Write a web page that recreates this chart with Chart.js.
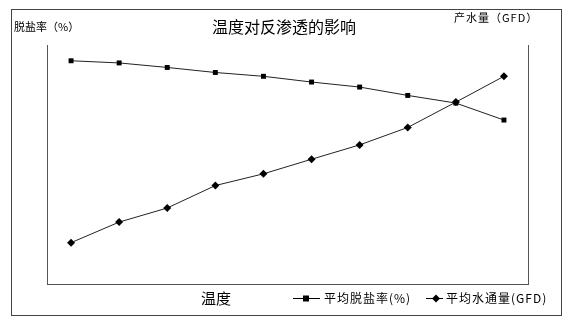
<!DOCTYPE html>
<html>
<head>
<meta charset="utf-8">
<script src="https://cdn.jsdelivr.net/npm/chart.js@4"></script>
<style>
  body { margin: 0; background: #fff; }
  #wrap { width: 572px; height: 322px; }
</style>
</head>
<body>
<div id="wrap"><canvas id="tempChart" width="572" height="322"></canvas></div>
<script>
// temperature steps (no labels shown on the axis)
const temps = ['1', '2', '3', '4', '5', '6', '7', '8', '9', '10'];
// average salt rejection, relative units
const saltRejection = [93.4, 92.5, 90.6, 88.5, 86.9, 84.5, 82.4, 78.9, 75.7, 68.6];
// average water flux, relative units
const waterFlux = [17.3, 25.9, 31.8, 41.2, 46.1, 52.2, 58.2, 65.5, 76.1, 86.9];

const cjk = '"Noto Sans CJK SC", sans-serif';

// frame, titles and the hand drawn legend
const decor = {
  id: 'decor',
  afterDraw(chart) {
    const ctx = chart.ctx;
    ctx.save();
    ctx.strokeStyle = '#444';
    ctx.lineWidth = 1;
    ctx.strokeRect(11.5, 9.5, 550, 306);

    ctx.fillStyle = '#000';
    ctx.textBaseline = 'middle';
    ctx.font = '16px ' + cjk;
    ctx.textAlign = 'center';
    ctx.fillText('温度对反渗透的影响', 284, 27);

    ctx.font = '11px ' + cjk;
    ctx.textAlign = 'left';
    ctx.fillText('脱盐率（%）', 14, 27);
    ctx.letterSpacing = '1px';
    ctx.fillText('产水量（GFD）', 454, 18);
    ctx.letterSpacing = '0px';

    ctx.font = '15px ' + cjk;
    ctx.fillText('温度', 201, 298);

    // legend
    ctx.font = '12px ' + cjk;
    ctx.strokeStyle = '#000';
    ctx.beginPath();
    ctx.moveTo(293, 298.5); ctx.lineTo(320, 298.5);
    ctx.moveTo(426, 298.5); ctx.lineTo(443, 298.5);
    ctx.stroke();
    ctx.fillRect(303, 295.5, 6, 6);
    ctx.beginPath();
    ctx.moveTo(436, 294.5); ctx.lineTo(440, 298.5); ctx.lineTo(436, 302.5); ctx.lineTo(432, 298.5);
    ctx.closePath(); ctx.fill();
    ctx.letterSpacing = '1px';
    ctx.fillText('平均脱盐率(%)', 324, 298);
    ctx.fillText('平均水通量(GFD)', 446, 298);
    ctx.restore();
  }
};

new Chart(document.getElementById('tempChart'), {
  type: 'line',
  data: {
    labels: temps,
    datasets: [{
      label: '平均脱盐率(%)',
      data: saltRejection,
      yAxisID: 'y',
      borderColor: '#222',
      borderWidth: 1,
      backgroundColor: '#000',
      pointStyle: 'rect',
      pointRadius: 3.5,
      pointBorderWidth: 0,
      tension: 0
    }, {
      label: '平均水通量(GFD)',
      data: waterFlux,
      yAxisID: 'y2',
      borderColor: '#222',
      borderWidth: 1,
      backgroundColor: '#000',
      pointStyle: 'rectRot',
      pointRadius: 4,
      pointBorderWidth: 0,
      tension: 0
    }]
  },
  options: {
    responsive: false,
    animation: false,
    layout: { padding: { left: 39, right: 36, top: 45, bottom: 30 } },
    plugins: { legend: { display: false }, tooltip: { enabled: false } },
    scales: {
      x: {
        offset: true,
        grid: { display: false },
        ticks: { display: false },
        border: { color: '#555' }
      },
      y: {
        position: 'left',
        min: 0, max: 100,
        grid: { display: false },
        ticks: { display: false },
        border: { color: '#555' }
      },
      y2: {
        position: 'right',
        min: 0, max: 100,
        grid: { display: false },
        ticks: { display: false },
        border: { color: '#555' }
      }
    }
  },
  plugins: [decor]
});
</script>
</body>
</html>
